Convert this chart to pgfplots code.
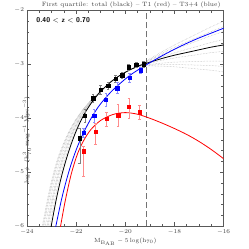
\documentclass[border=0pt]{standalone}
\usepackage{pgfplots}
\pgfplotsset{compat=1.18}
\begin{document}
\begin{tikzpicture}
\begin{axis}[
  scale only axis, width=197pt, height=216pt,
  xmin=-24, xmax=-16, ymin=-6, ymax=-2,
  xtick={-24,-22,-20,-18,-16}, ytick={-6,-5,-4,-3,-2},
  minor x tick num=3, minor y tick num=4,
  tick align=inside, xtick pos=both, ytick pos=both,
  xticklabel pos=lower, yticklabel pos=left,
  major tick length=4pt, minor tick length=2.2pt,
  axis line style={black!65}, every tick/.style={black!65, line width=0.4pt},
  tick label style={font=\fontsize{6.5}{7.5}\selectfont, text=black!75},
  yticklabel style={xshift=0.5pt},
  xlabel={$\mathrm{M}_{\mathrm{B}_{\mathrm{AB}}}-5\log(\mathrm{h}_{70})$},
  ylabel={$\log\,\phi\ \ (\mathrm{h}_{70}^{3}\,\mathrm{mag}^{-1}\,\mathrm{Mpc}^{-3})$},
  xlabel style={font=\fontsize{6.5}{7.5}\selectfont, text=black!75, at={(axis description cs:0.5,0)}, anchor=center, yshift=-16pt},
  ylabel style={font=\fontsize{6.5}{7.5}\selectfont, text=black!75, at={(axis description cs:0,0.5)}, anchor=center, xshift=-22pt},
  clip=true,
]
% grey family of fits
\pgfplotsset{greyfit/.style={gray!60, densely dotted, line width=0.5pt, smooth, no markers}}
\addplot[greyfit] coordinates {(-23.16,-6.25)(-23.06,-5.97)(-22.86,-5.49)(-22.66,-5.09)(-22.46,-4.76)(-22.254,-4.48)(-22.048,-4.24)(-21.839,-4.04)(-21.63,-3.87)(-21.421,-3.73)(-21.212,-3.61)(-21.0,-3.50)(-20.6,-3.33)(-20.2,-3.20)(-19.8,-3.10)(-19.5,-3.04)(-19.0,-2.897)(-18.5,-2.764)(-18.0,-2.641)(-17.5,-2.528)(-17.0,-2.415)(-16.5,-2.302)(-16.0,-2.199)};
\addplot[greyfit] coordinates {(-23.22,-6.25)(-23.12,-5.97)(-22.92,-5.49)(-22.72,-5.09)(-22.52,-4.76)(-22.308,-4.48)(-22.096,-4.24)(-21.878,-4.04)(-21.66,-3.87)(-21.442,-3.73)(-21.224,-3.61)(-21.0,-3.50)(-20.6,-3.33)(-20.2,-3.20)(-19.8,-3.10)(-19.5,-3.04)(-19.0,-3.03)(-18.5,-3.033)(-18.0,-3.045)(-17.5,-3.066)(-17.0,-3.088)(-16.5,-3.109)(-16.0,-3.14)};
\addplot[greyfit] coordinates {(-23.28,-6.25)(-23.18,-5.97)(-22.98,-5.49)(-22.78,-5.09)(-22.58,-4.76)(-22.362,-4.48)(-22.144,-4.24)(-21.917,-4.04)(-21.69,-3.87)(-21.463,-3.73)(-21.236,-3.61)(-21.0,-3.50)(-20.6,-3.33)(-20.2,-3.20)(-19.8,-3.10)(-19.5,-3.04)(-19.0,-2.9245)(-18.5,-2.819)(-18.0,-2.7235)(-17.5,-2.638)(-17.0,-2.5525)(-16.5,-2.467)(-16.0,-2.3915)};
\addplot[greyfit] coordinates {(-23.34,-6.25)(-23.24,-5.97)(-23.04,-5.49)(-22.84,-5.09)(-22.64,-4.76)(-22.416,-4.48)(-22.192,-4.24)(-21.956,-4.04)(-21.72,-3.87)(-21.484,-3.73)(-21.248,-3.61)(-21.0,-3.50)(-20.6,-3.33)(-20.2,-3.20)(-19.8,-3.10)(-19.5,-3.04)(-19.0,-3.003)(-18.5,-2.976)(-18.0,-2.959)(-17.5,-2.952)(-17.0,-2.945)(-16.5,-2.938)(-16.0,-2.941)};
\addplot[greyfit] coordinates {(-23.40,-6.25)(-23.30,-5.97)(-23.10,-5.49)(-22.90,-5.09)(-22.70,-4.76)(-22.47,-4.48)(-22.24,-4.24)(-21.995,-4.04)(-21.75,-3.87)(-21.505,-3.73)(-21.26,-3.61)(-21.0,-3.50)(-20.6,-3.33)(-20.2,-3.20)(-19.8,-3.10)(-19.5,-3.04)(-19.0,-2.9455)(-18.5,-2.861)(-18.0,-2.7865)(-17.5,-2.722)(-17.0,-2.6575)(-16.5,-2.593)(-16.0,-2.5385)};
\addplot[greyfit] coordinates {(-23.46,-6.25)(-23.36,-5.97)(-23.16,-5.49)(-22.96,-5.09)(-22.76,-4.76)(-22.524,-4.48)(-22.288,-4.24)(-22.034,-4.04)(-21.78,-3.87)(-21.526,-3.73)(-21.272,-3.61)(-21.0,-3.50)(-20.6,-3.33)(-20.2,-3.20)(-19.8,-3.10)(-19.5,-3.04)(-19.0,-2.977)(-18.5,-2.924)(-18.0,-2.881)(-17.5,-2.848)(-17.0,-2.815)(-16.5,-2.782)(-16.0,-2.759)};
\addplot[greyfit] coordinates {(-23.25,-6.25)(-23.15,-5.97)(-22.95,-5.49)(-22.75,-5.09)(-22.55,-4.76)(-22.335,-4.48)(-22.12,-4.24)(-21.898,-4.04)(-21.675,-3.87)(-21.453,-3.73)(-21.23,-3.61)(-21.0,-3.50)(-20.6,-3.33)(-20.2,-3.20)(-19.8,-3.10)(-19.5,-3.04)(-19.0,-2.9115)(-18.5,-2.793)(-18.0,-2.6845)(-17.5,-2.586)(-17.0,-2.4875)(-16.5,-2.389)(-16.0,-2.3005)};
\addplot[greyfit] coordinates {(-23.43,-6.25)(-23.33,-5.97)(-23.13,-5.49)(-22.93,-5.09)(-22.73,-4.76)(-22.497,-4.48)(-22.264,-4.24)(-22.015,-4.04)(-21.765,-3.87)(-21.516,-3.73)(-21.266,-3.61)(-21.0,-3.50)(-20.6,-3.33)(-20.2,-3.20)(-19.8,-3.10)(-19.5,-3.04)(-19.0,-3.017)(-18.5,-3.004)(-18.0,-3.001)(-17.5,-3.008)(-17.0,-3.015)(-16.5,-3.022)(-16.0,-3.039)};
% dashed limit
\addplot[black!55, dash pattern=on 6pt off 3pt, line width=0.6pt] coordinates {(-19.13,-6)(-19.13,-2)};
% fitted curves
\addplot[black, line width=0.8pt, smooth, no markers] coordinates {(-23.1,-6.24)(-23.0,-5.97)(-22.8,-5.49)(-22.6,-5.09)(-22.4,-4.76)(-22.2,-4.48)(-22.0,-4.24)(-21.8,-4.04)(-21.6,-3.87)(-21.4,-3.73)(-21.2,-3.61)(-21.0,-3.50)(-20.6,-3.33)(-20.2,-3.20)(-19.8,-3.10)(-19.4,-3.02)(-19.0,-2.96)(-18.5,-2.89)(-18.0,-2.83)(-17.5,-2.78)(-17.0,-2.73)(-16.5,-2.68)(-16.0,-2.64)};
\addplot[blue, line width=0.8pt, smooth, no markers] coordinates {(-22.85,-6.06)(-22.6,-5.52)(-22.4,-5.16)(-22.2,-4.85)(-22.0,-4.59)(-21.8,-4.37)(-21.6,-4.18)(-21.4,-4.01)(-21.2,-3.86)(-21.0,-3.73)(-20.6,-3.52)(-20.2,-3.35)(-19.8,-3.20)(-19.4,-3.08)(-19.0,-2.97)(-18.5,-2.84)(-18.0,-2.72)(-17.5,-2.61)(-17.0,-2.51)(-16.5,-2.42)(-16.0,-2.33)};
\addplot[red, line width=0.8pt, smooth, no markers] coordinates {(-22.65,-6.05)(-22.45,-5.55)(-22.2,-5.04)(-21.95,-4.67)(-21.7,-4.42)(-21.4,-4.21)(-21.0,-4.04)(-20.5,-3.93)(-20.0,-3.895)(-19.5,-3.925)(-19.0,-4.0)(-18.5,-4.09)(-18.0,-4.19)(-17.5,-4.30)(-17.0,-4.43)(-16.5,-4.58)(-16.0,-4.75)};
% data points
\addplot[only marks, mark=square*, mark size=1.7pt, black,
  error bars/.cd, y dir=both, y explicit,
  error bar style={gray, line width=0.5pt},
  error mark options={rotate=90, gray, mark size=1.3pt, line width=0.5pt}]
 coordinates {
 (-21.85,-4.37) += (0,0.19) -= (0,0.46)
 (-21.64,-3.95) += (0,0.12) -= (0,0.12)
 (-21.31,-3.63) += (0,0.08) -= (0,0.08)
 (-21.00,-3.47) += (0,0.08) -= (0,0.08)
 (-20.70,-3.40) += (0,0.07) -= (0,0.07)
 (-20.40,-3.27) += (0,0.07) -= (0,0.07)
 (-20.13,-3.20) += (0,0.06) -= (0,0.06)
 (-19.86,-3.05) += (0,0.06) -= (0,0.06)
 (-19.55,-3.01) += (0,0.05) -= (0,0.05)
 (-19.25,-3.00) += (0,0.05) -= (0,0.05)
 };
\addplot[only marks, mark=square*, mark size=1.7pt, blue,
  error bars/.cd, y dir=both, y explicit,
  error bar style={blue!45, line width=0.5pt},
  error mark options={rotate=90, blue!45, mark size=1.3pt, line width=0.5pt}]
 coordinates {
 (-21.69,-4.27) += (0,0.08) -= (0,0.08)
 (-21.27,-3.95) += (0,0.12) -= (0,0.12)
 (-20.79,-3.65) += (0,0.12) -= (0,0.12)
 (-20.32,-3.44) += (0,0.10) -= (0,0.10)
 (-19.82,-3.25) += (0,0.08) -= (0,0.08)
 (-19.37,-3.11) += (0,0.06) -= (0,0.06)
 };
\addplot[only marks, mark=square*, mark size=1.7pt, red,
  error bars/.cd, y dir=both, y explicit,
  error bar style={red!45, line width=0.5pt},
  error mark options={rotate=90, red!45, mark size=1.3pt, line width=0.5pt}]
 coordinates {
 (-21.69,-4.61) += (0,0.09) -= (0,0.46)
 (-21.21,-4.25) += (0,0.16) -= (0,0.24)
 (-20.76,-4.01) += (0,0.13) -= (0,0.13)
 (-20.29,-3.94) += (0,0.20) -= (0,0.21)
 (-19.85,-3.78) += (0,0.15) -= (0,0.22)
 (-19.41,-3.89) += (0,0.13) -= (0,0.13)
 };
\node[anchor=west, font=\sffamily\bfseries\fontsize{7}{8}\selectfont, inner sep=0pt] at (axis cs:-23.62,-2.19) {0.40 $<$ z $<$ 0.70};
\coordinate (bl) at (rel axis cs:0,0);
\coordinate (tr) at (rel axis cs:1,1);
\coordinate (tt) at (rel axis cs:0.53,1);
\end{axis}
\node[anchor=base, font=\fontsize{6.2}{7}\selectfont, text=black!75, inner sep=0pt] at ([yshift=4.2pt]tt) {First quartile: total (black) -- T1 (red) -- T3+4 (blue)};
\path (bl) ++(-27pt,-23pt) coordinate (BB1);
\path (tr) ++(25pt,10.5pt) coordinate (BB2);
\pgfresetboundingbox
\useasboundingbox (BB1) rectangle (BB2);
\end{tikzpicture}
\end{document}
